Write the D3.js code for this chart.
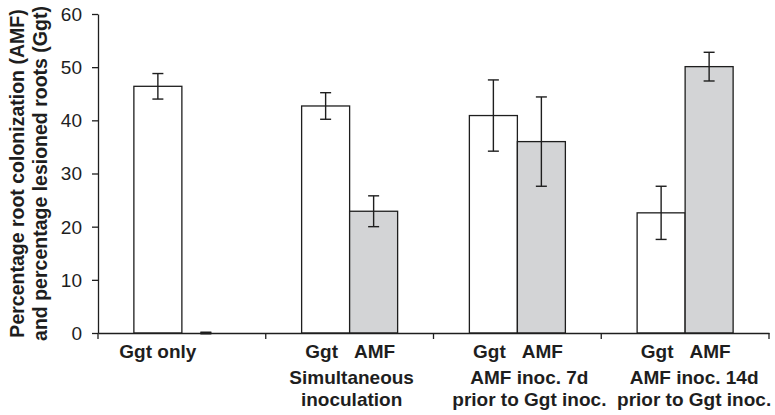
<!DOCTYPE html>
<html>
<head>
<meta charset="utf-8">
<script src="https://cdn.jsdelivr.net/npm/d3@7"></script>
<style>
	body { margin: 0; background: #fff; }
	svg { display: block; font-family: 'Liberation Sans', Arial, sans-serif; }
</style>
</head>
<body>
<svg id="chart" width="775" height="415"></svg>
<script>
const svg = d3.select('#chart')
const inkColor = '#1e1e1e'
const amfColor = '#d3d4d6'
const labelSize = '19px'

// data
const groups = ['g1', 'g2', 'g3', 'g4']
const groupTitles = [[], ['Simultaneous', 'inoculation'], ['AMF inoc. 7d', 'prior to Ggt inoc.'], ['AMF inoc. 14d', 'prior to Ggt inoc.']]
const series = ['Ggt', 'AMF']
const ggtMeans = [46.4, 42.7, 40.9, 22.6]
const ggtErrors = [2.4, 2.5, 6.7, 5.0]
const amfMeans = [0, 22.9, 36.0, 50.1]
const amfErrors = [0, 2.9, 8.4, 2.7]
const yTicks = [0, 10, 20, 30, 40, 50, 60]

const plotLeft = 98, plotRight = 769, plotTop = 14, plotBottom = 333
const barWidth = 48
const titleShift = [0, 2, 12, 9] // the titles sit a bit right of the group centre

const rows = []
groups.forEach((g, i) => {
	rows.push({ group: g, series: 'Ggt', value: ggtMeans[i], err: ggtErrors[i], i })
	rows.push({ group: g, series: 'AMF', value: amfMeans[i], err: amfErrors[i], i })
})

const x = d3.scaleBand().domain(groups).range([plotLeft, plotRight]).padding(0)
const xInner = d3.scaleBand().domain(series)
	.range([x.bandwidth() / 2 - barWidth, x.bandwidth() / 2 + barWidth])
const y = d3.scaleLinear().domain([0, 60]).range([plotBottom, plotTop])

// bars
svg.append('g')
	.selectAll('rect')
	.data(rows.filter(d => d.value > 0))
	.enter()
	.append('rect')
		.attr('x', d => x(d.group) + xInner(d.series))
		.attr('y', d => y(d.value))
		.attr('width', xInner.bandwidth())
		.attr('height', d => y(0) - y(d.value))
		.attr('fill', d => d.series === 'AMF' ? amfColor : '#fff')
		.attr('stroke', inkColor)
		.attr('stroke-width', 1.3)

// error bars
const capHalf = 5.5
const errs = svg.append('g')
	.attr('stroke', inkColor)
	.attr('stroke-width', 1.4)
	.selectAll('g')
	.data(rows)
	.enter()
	.append('g')
		.attr('transform', d => `translate(${x(d.group) + xInner(d.series) + xInner.bandwidth() / 2}, 0)`)
errs.append('line')
	.attr('y1', d => y(d.value + d.err))
	.attr('y2', d => y(d.value - d.err))
errs.append('line')
	.attr('x1', -capHalf).attr('x2', capHalf)
	.attr('y1', d => y(d.value + d.err)).attr('y2', d => y(d.value + d.err))
	.attr('stroke-width', d => d.value === 0 ? 3 : 1.4)
errs.append('line')
	.attr('x1', -capHalf).attr('x2', capHalf)
	.attr('y1', d => y(d.value - d.err)).attr('y2', d => y(d.value - d.err))

// y axis
const yAxis = d3.axisLeft(y).tickValues(yTicks).tickSize(6).tickPadding(10).tickSizeOuter(0)
svg.append('g')
	.attr('transform', `translate(${plotLeft}, 0)`)
	.call(yAxis)
	.call(g => g.selectAll('text').style('font-size', '19px').attr('fill', inkColor).attr('dy', '0.34em'))
	.call(g => g.selectAll('line, path').attr('stroke', inkColor).attr('stroke-width', 1.3))

// x axis: ticks at category boundaries
const xAxis = d3.axisBottom(x).tickSize(0).tickFormat('')
svg.append('g')
	.attr('transform', `translate(0, ${plotBottom})`)
	.call(xAxis)
	.call(g => g.select('path').attr('stroke', inkColor).attr('stroke-width', 1.5))
svg.append('g')
	.selectAll('line')
	.data(groups.map(g => x(g)).concat([plotRight]))
	.enter()
	.append('line')
		.attr('x1', d => d).attr('x2', d => d)
		.attr('y1', plotBottom).attr('y2', plotBottom + 6)
		.attr('stroke', inkColor)
		.attr('stroke-width', 1.3)

// series labels under the bars
const labelRows = rows.filter(d => d.i > 0)
svg.append('g')
	.selectAll('text')
	.data(labelRows)
	.enter()
	.append('text')
		.attr('x', d => x(d.group) + xInner(d.series) + xInner.bandwidth() / 2 + (d.series === 'Ggt' ? -4 : 1))
		.attr('y', 358)
		.attr('text-anchor', 'middle')
		.style('font-size', labelSize)
		.style('font-weight', 'bold')
		.attr('fill', inkColor)
		.text(d => d.series)

svg.append('text')
	.attr('x', x('g1') + xInner('Ggt') + xInner.bandwidth() / 2)
	.attr('y', 358)
	.attr('text-anchor', 'middle')
	.style('font-size', labelSize)
	.style('font-weight', 'bold')
	.attr('fill', inkColor)
	.text('Ggt only')

// group titles
groups.forEach((g, i) => {
	const cx = x(g) + x.bandwidth() / 2 + titleShift[i]
	svg.append('text')
		.attr('x', cx)
		.attr('y', 384)
		.attr('text-anchor', 'middle')
		.style('font-size', labelSize)
		.style('font-weight', 'bold')
		.attr('fill', inkColor)
		.selectAll('tspan')
		.data(groupTitles[i])
		.enter()
		.append('tspan')
			.attr('x', cx)
			.attr('dy', (d, j) => j === 0 ? 0 : 22)
			.text(d => d)
})

// y axis title
const yTitle = svg.append('text')
	.attr('transform', `translate(24, ${(plotTop + plotBottom) / 2}) rotate(-90)`)
	.attr('text-anchor', 'middle')
	.style('font-size', '19.5px')
	.style('font-weight', 'bold')
	.attr('fill', inkColor)
yTitle.append('tspan').attr('x', 0).attr('dy', 0).text('Percentage root colonization (AMF)')
yTitle.append('tspan').attr('x', 0).attr('dy', 22.5).text('and percentage lesioned roots (Ggt)')
</script>
</body>
</html>
